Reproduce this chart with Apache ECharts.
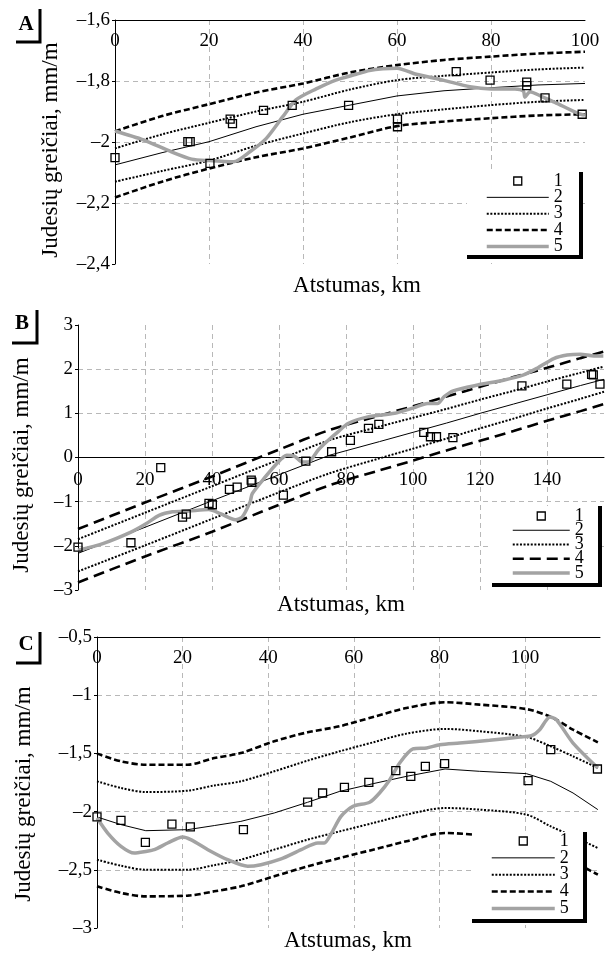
<!DOCTYPE html>
<html>
<head>
<meta charset="utf-8">
<script src="https://cdn.jsdelivr.net/npm/echarts@6/dist/echarts.min.js"></script>
<style>
html, body { margin: 0; padding: 0; background: #fff; }
.panel { position: absolute; left: 0; width: 607px; }
#chartA { top: 0; height: 300px; }
#chartB { top: 300px; height: 320px; }
#chartC { top: 620px; height: 333px; }
</style>
</head>
<body>
<div id="chartA" class="panel"></div>
<div id="chartB" class="panel"></div>
<div id="chartC" class="panel"></div>
<script>
// ---- panel A ----
var aPtX = [0, 15.5, 16, 20.2, 24.5, 25.0, 31.6, 37.7, 49.7, 60.1, 60.1, 72.6, 79.8, 87.6, 87.6, 91.5, 99.4];
var aPtY = [-2.051, -1.999, -1.999, -2.070, -1.925, -1.940, -1.896, -1.880, -1.880, -1.925, -1.950, -1.769, -1.797, -1.804, -1.815, -1.855, -1.909];
var aLineX = [0, 10, 20, 30, 40, 50, 60, 70, 80, 90, 100];
var aMid = [-2.075, -2.035, -1.999, -1.950, -1.909, -1.879, -1.849, -1.832, -1.822, -1.813, -1.808];
var aDotUp = [-2.021, -1.975, -1.937, -1.900, -1.868, -1.828, -1.797, -1.783, -1.772, -1.762, -1.756];
var aDotLo = [-2.130, -2.095, -2.061, -2.012, -1.972, -1.935, -1.909, -1.893, -1.879, -1.868, -1.862];
var aDashUp = [-1.965, -1.915, -1.876, -1.838, -1.808, -1.772, -1.748, -1.731, -1.720, -1.710, -1.704];
var aDashLo = [-2.182, -2.130, -2.087, -2.050, -2.021, -1.985, -1.948, -1.933, -1.922, -1.913, -1.909];
var aGrayX = [0, 6, 12, 16.3, 20, 25.2, 28.7, 32.2, 35.7, 38.5, 42.8, 47, 51.3, 54.1, 57, 60, 64.1, 69.8, 75.5, 80, 85.1, 86.9, 87.2, 88.3, 90.8, 93.6, 98.5, 100];
var aGrayY = [-1.964, -1.993, -2.032, -2.056, -2.061, -2.065, -2.032, -1.988, -1.917, -1.862, -1.826, -1.797, -1.778, -1.766, -1.760, -1.758, -1.778, -1.797, -1.819, -1.826, -1.826, -1.833, -1.853, -1.835, -1.851, -1.870, -1.906, -1.912];

// ---- panel B ----
var bPtX = [0, 15.8, 24.7, 31.2, 32.3, 39.1, 40.1, 45.2, 47.5, 51.7, 51.9, 61.3, 68.0, 75.7, 81.3, 86.7, 89.8, 103.2, 105.2, 107.0, 111.9, 132.5, 145.9, 153.3, 153.8, 155.8];
var bPtY = [-2.03, -1.93, -0.23, -1.35, -1.28, -1.04, -1.07, -0.72, -0.67, -0.51, -0.56, -0.85, -0.08, 0.13, 0.39, 0.66, 0.75, 0.57, 0.47, 0.47, 0.45, 1.62, 1.66, 1.88, 1.87, 1.66];
var bLineX = [0, 20, 40, 60, 75, 90, 100, 110, 120, 130, 140, 150, 157];
var bMid = [-2.17, -1.58, -0.98, -0.39, 0.05, 0.36, 0.57, 0.78, 1.00, 1.21, 1.42, 1.63, 1.77];
var bDotUp = [-1.85, -1.25, -0.65, -0.05, 0.39, 0.70, 0.90, 1.10, 1.31, 1.51, 1.72, 1.92, 2.06];
var bDotLo = [-2.58, -1.99, -1.39, -0.79, -0.36, -0.02, 0.20, 0.43, 0.66, 0.88, 1.11, 1.33, 1.49];
var bDashUp = [-1.62, -1.02, -0.43, 0.18, 0.62, 0.95, 1.16, 1.38, 1.60, 1.82, 2.03, 2.25, 2.40];
var bDashLo = [-2.83, -2.24, -1.68, -1.07, -0.63, -0.29, -0.07, 0.16, 0.38, 0.60, 0.83, 1.05, 1.21];
var bGrayX = [0, 7.4, 15.8, 20.3, 24.2, 28.2, 33.1, 39, 42.5, 47, 49, 51.4, 52, 55.9, 59.3, 62.3, 64.8, 66.8, 68.7, 71.7, 74.7, 77.6, 80.6, 86.5, 94.5, 100.4, 104.3, 107.3, 109.3, 112, 119.3, 127, 133, 137, 142, 146, 150, 154, 156.8];
var bGrayY = [-2.10, -1.95, -1.69, -1.50, -1.31, -1.23, -1.21, -1.18, -1.27, -1.41, -1.35, -1.0, -0.82, -0.44, -0.14, 0.05, 0.02, -0.10, -0.10, 0.17, 0.39, 0.58, 0.77, 0.92, 1.0, 1.13, 1.22, 1.22, 1.38, 1.51, 1.64, 1.75, 1.87, 2.02, 2.24, 2.32, 2.34, 2.30, 2.30];

// ---- panel C ----
var cPtX = [0, 5.6, 11.3, 17.5, 21.8, 34.2, 49.2, 52.7, 57.8, 63.5, 69.8, 73.3, 76.7, 81.2, 100.7, 106.0, 116.9];
var cPtY = [-2.046, -2.075, -2.264, -2.107, -2.132, -2.155, -1.918, -1.840, -1.792, -1.749, -1.648, -1.697, -1.611, -1.588, -1.734, -1.468, -1.634];
var cLineX = [0, 5.6, 11.4, 21.2, 27.4, 33.6, 41.4, 49.2, 56.7, 64.5, 72.3, 81.3, 89.4, 100.3, 106, 111.2, 117];
var cMid = [-2.046, -2.112, -2.164, -2.155, -2.12, -2.084, -2.012, -1.920, -1.826, -1.760, -1.697, -1.634, -1.654, -1.674, -1.740, -1.840, -1.983];
var cDotUp = [-1.740, -1.797, -1.832, -1.820, -1.775, -1.740, -1.654, -1.562, -1.482, -1.405, -1.330, -1.290, -1.310, -1.359, -1.439, -1.525, -1.625];
var cDotLo = [-2.413, -2.465, -2.499, -2.499, -2.46, -2.413, -2.327, -2.241, -2.170, -2.098, -2.026, -1.969, -1.983, -2.026, -2.127, -2.213, -2.313];
var cDashUp = [-1.502, -1.568, -1.597, -1.597, -1.540, -1.497, -1.396, -1.319, -1.267, -1.187, -1.110, -1.061, -1.081, -1.119, -1.187, -1.296, -1.405];
var cDashLo = [-2.642, -2.699, -2.728, -2.722, -2.685, -2.642, -2.556, -2.470, -2.399, -2.327, -2.255, -2.184, -2.204, -2.26, -2.35, -2.43, -2.542];
var cGrayX = [0, 2.5, 5.6, 8.7, 11.4, 13.4, 16.5, 20, 21.9, 25.9, 30.5, 35.2, 38.3, 43, 47.7, 51.6, 53.1, 54.7, 57, 59.8, 63.7, 66, 68.4, 70.7, 73.8, 77, 80.1, 84.7, 91.7, 98.8, 101.5, 103.4, 105.8, 107.3, 111.2, 117];
var cGrayY = [-2.055, -2.184, -2.298, -2.356, -2.342, -2.327, -2.270, -2.218, -2.241, -2.327, -2.413, -2.470, -2.456, -2.407, -2.327, -2.270, -2.270, -2.190, -2.041, -1.955, -1.920, -1.840, -1.726, -1.582, -1.462, -1.453, -1.425, -1.411, -1.388, -1.359, -1.348, -1.296, -1.187, -1.21, -1.411, -1.625];

var legendNames = ['1', '2', '3', '4', '5'];
var FONT = '"Liberation Serif", "DejaVu Serif", serif';
var GRAY = '#a3a3a3';
var GRID_LINE = '#b8b8b8';

function pairs(xs, ys) {
  return xs.map(function (x, i) { return [x, ys[i]]; });
}
function fmt(v) {
  return String(Math.round(v * 10) / 10).replace('.', ',').replace('-', '–');
}

function buildOption(p) {
  var dash = p.dash;
  var dot = [2, 1.6];
  var series = [
    { name: '1', type: 'line', data: pairs(p.ptX, p.ptY), symbol: 'rect', symbolSize: 8,
      lineStyle: { width: 0 }, z: 6,
      itemStyle: { color: 'rgba(255,255,255,0)', borderColor: '#000', borderWidth: 1.3 } },
    { name: '2', type: 'line', data: pairs(p.lineX, p.mid), symbol: 'none',
      lineStyle: { color: '#000', width: 1 } },
    { name: '3', type: 'line', data: pairs(p.lineX, p.dotUp), symbol: 'none', smooth: 0.3,
      lineStyle: { color: '#000', width: 2, type: dot } },
    { name: '3', type: 'line', data: pairs(p.lineX, p.dotLo), symbol: 'none', smooth: 0.3,
      lineStyle: { color: '#000', width: 2, type: dot } },
    { name: '4', type: 'line', data: pairs(p.lineX, p.dashUp), symbol: 'none', smooth: 0.3,
      lineStyle: { color: '#000', width: 2.6, type: dash } },
    { name: '4', type: 'line', data: pairs(p.lineX, p.dashLo), symbol: 'none', smooth: 0.3,
      lineStyle: { color: '#000', width: 2.6, type: dash } },
    { name: '5', type: 'line', data: pairs(p.grayX, p.grayY), symbol: 'none', smooth: 0.25,
      lineStyle: { color: GRAY, width: 3.5 }, z: 3 }
  ];
  var lg = p.legend;
  var box = p.box;
  return {
    animation: false,
    grid: { left: p.grid[0], top: p.grid[1], width: p.grid[2], height: p.grid[3] },
    xAxis: {
      type: 'value', min: 0, max: p.xMax, interval: 20,
      position: p.xTop ? 'top' : 'bottom',
      offset: p.xOffset || 0,
      axisLine: { onZero: false, lineStyle: { color: '#000', width: 1 } },
      axisTick: { show: false },
      axisLabel: { inside: p.xTop, margin: p.xTop ? 12 : 13, color: '#000', fontFamily: FONT, fontSize: 19,
        formatter: function (v) { return v % 20 === 0 ? String(v) : ''; } },
      splitLine: { show: true, showMinLine: false, showMaxLine: false,
        lineStyle: { color: GRID_LINE, type: [5, 4], width: 1 } }
    },
    yAxis: {
      type: 'value', min: p.yMin, max: p.yMax, interval: p.yStep,
      axisLine: { show: true, onZero: false, lineStyle: { color: '#000', width: 1 } },
      axisTick: { show: true, length: 3, lineStyle: { color: '#000' } },
      axisLabel: { margin: 5, color: '#000', fontFamily: FONT, fontSize: 19, formatter: fmt },
      splitLine: { show: true, showMinLine: false, showMaxLine: false,
        lineStyle: { color: GRID_LINE, type: [5, 4], width: 1 } }
    },
    legend: {
      orient: 'vertical', left: lg.left, top: lg.top, padding: 0, itemGap: lg.step - 17.25,
      itemWidth: lg.width, itemHeight: 10, z: 60, selectedMode: false,
      textStyle: { fontFamily: FONT, fontSize: 18, color: '#000' },
      data: [
        { name: '1', lineStyle: { width: 0 }, itemStyle: { color: 'rgba(255,255,255,0)', borderColor: '#000', borderWidth: 1.3 } },
        { name: '2', lineStyle: { width: 1 }, itemStyle: { opacity: 0 } },
        { name: '3', lineStyle: { width: 2 }, itemStyle: { opacity: 0 } },
        { name: '4', lineStyle: { width: 2.6 }, itemStyle: { opacity: 0 } },
        { name: '5', lineStyle: { width: 3.5 }, itemStyle: { opacity: 0 } }
      ]
    },
    graphic: [
      { type: 'rect', z: 50, shape: { x: box[0], y: box[1], width: box[2] - box[0], height: box[3] - box[1] },
        style: { fill: '#fff' } },
      { type: 'polyline', z: 51, shape: { points: [[box[0], box[3]], [box[2], box[3]], [box[2], box[1]]] },
        style: { stroke: '#000', lineWidth: 4, fill: null, lineJoin: 'miter' } },
      { type: 'polyline', z: 51, shape: { points: p.bracket },
        style: { stroke: '#000', lineWidth: 3, fill: null, lineJoin: 'miter' } },
      { type: 'text', z: 51, x: p.letter[1], y: p.letter[2],
        style: { text: p.letter[0], font: 'bold 21px ' + FONT, fill: '#000', align: 'center', verticalAlign: 'middle' } },
      { type: 'text', z: 51, x: p.xName[0], y: p.xName[1],
        style: { text: 'Atstumas, km', font: '23px ' + FONT, fill: '#000', align: 'center', verticalAlign: 'middle' } },
      { type: 'text', z: 51, x: p.yName[0], y: p.yName[1], rotation: Math.PI / 2,
        style: { text: 'Judesių greičiai, mm/m', font: '23px ' + FONT, fill: '#000', align: 'center', verticalAlign: 'middle' } }
    ],
    series: series
  };
}

var panels = [
  { id: 'chartA', grid: [115, 20, 470, 244], xMax: 100, xTop: true, yMin: -2.4, yMax: -1.6, yStep: 0.2,
    dash: [6, 3], ptX: aPtX, ptY: aPtY, lineX: aLineX, mid: aMid, dotUp: aDotUp, dotLo: aDotLo,
    dashUp: aDashUp, dashLo: aDashLo, grayX: aGrayX, grayY: aGrayY,
    legend: { left: 485, top: 172, width: 62, step: 15.6 }, box: [467, 172, 581, 257],
    bracket: [[16, 42], [40, 42], [40, 9]], letter: ['A', 26, 25], xName: [357, 286], yName: [51, 150] },
  { id: 'chartB', grid: [78, 25, 529, 265], xMax: 157, xTop: false, xOffset: -132.5, yMin: -3, yMax: 3, yStep: 1,
    dash: [11, 6], ptX: bPtX, ptY: bPtY, lineX: bLineX, mid: bMid, dotUp: bDotUp, dotLo: bDotLo,
    dashUp: bDashUp, dashLo: bDashLo, grayX: bGrayX, grayY: bGrayY,
    legend: { left: 511, top: 207, width: 57, step: 13.5 }, box: [492, 206, 600, 285],
    bracket: [[12, 43], [37, 43], [37, 10]], letter: ['B', 22, 24], xName: [341, 305], yName: [22, 165] },
  { id: 'chartC', grid: [97, 17, 503, 291], xMax: 117.5, xTop: true, yMin: -3, yMax: -0.5, yStep: 0.5,
    dash: [6, 3], ptX: cPtX, ptY: cPtY, lineX: cLineX, mid: cMid, dotUp: cDotUp, dotLo: cDotLo,
    dashUp: cDashUp, dashLo: cDashLo, grayX: cGrayX, grayY: cGrayY,
    legend: { left: 490, top: 212, width: 63, step: 16.1 }, box: [472, 212, 585, 301],
    bracket: [[16, 43], [40, 43], [40, 12]], letter: ['C', 26, 25], xName: [348, 321], yName: [24, 174] }
];

panels.forEach(function (p) {
  var chart = echarts.init(document.getElementById(p.id), null, { renderer: 'canvas' });
  chart.setOption(buildOption(p));
});
</script>
</body>
</html>
